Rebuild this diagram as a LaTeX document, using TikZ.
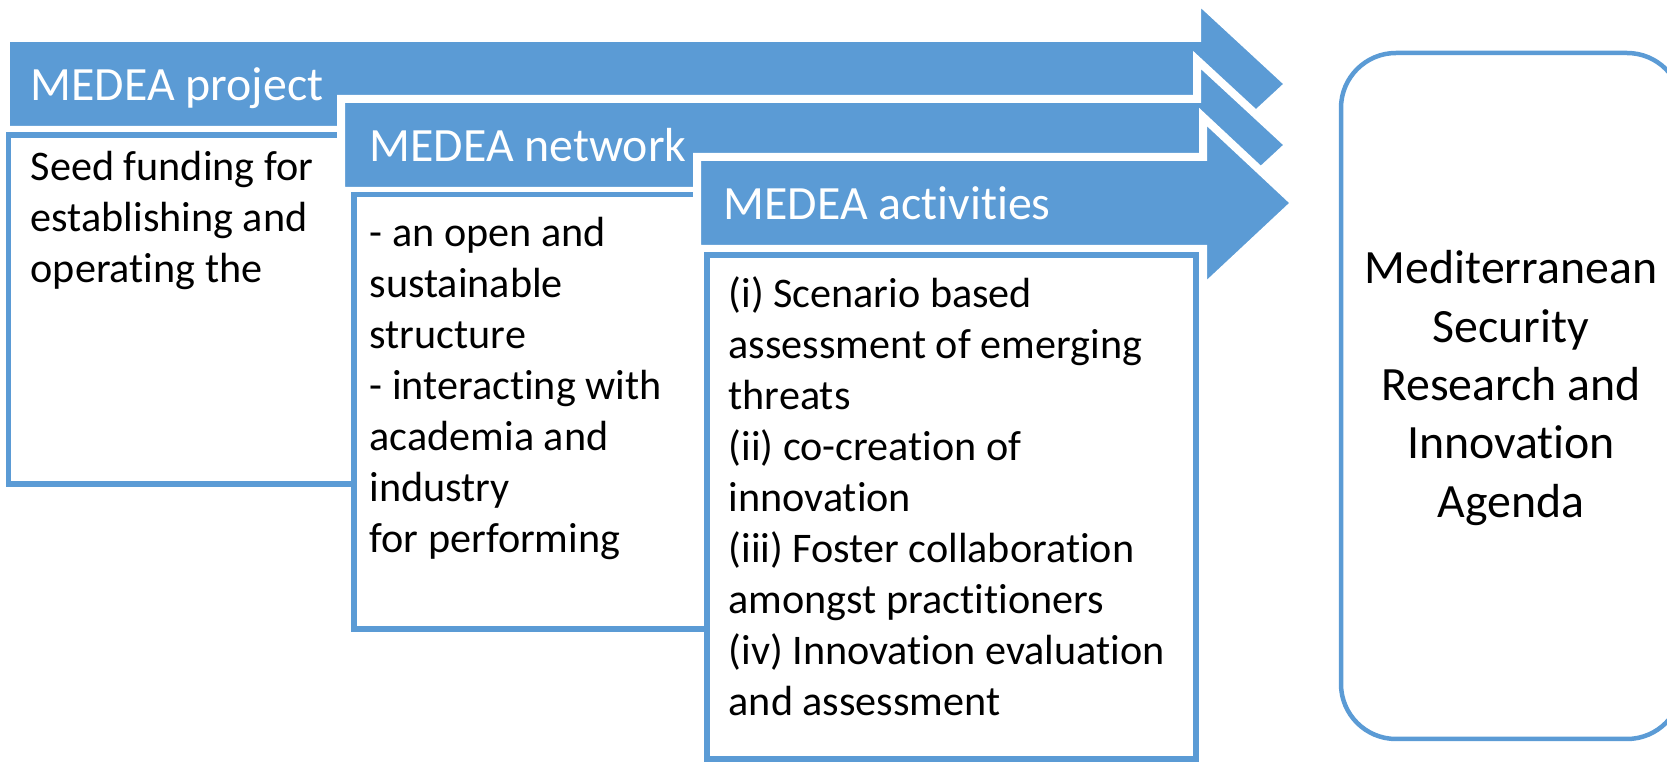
\documentclass[tikz,border=0pt]{standalone}
\usepackage{fontspec}
\setmainfont{Carlito}[Ligatures={NoCommon}]
\usepackage{xcolor}
\usepackage{tikz}
\definecolor{medeablue}{HTML}{5B9BD5}

\begin{document}
\begin{tikzpicture}[
  bar/.style={fill=medeablue, draw=white, line width=0.08cm, line join=miter},
  box/.style={draw=medeablue, fill=white, line width=0.055cm},
  headtext/.style={anchor=base west, inner sep=0pt, text=white, font=\fontsize{13.6}{16}\selectfont},
  bodytext/.style={anchor=north west, inner sep=0pt, align=left, font=\fontsize{12}{14.5}\selectfont}
]
\useasboundingbox (0,0) rectangle (16.67,7.62);
%	MEDEA project
\draw[bar] (0.06,6.32) -- (0.06,7.24) -- (11.97,7.24) -- (11.97,7.63)
		-- (12.89,6.78) -- (11.97,5.93) -- (11.97,6.32) -- cycle;
\node[headtext] (projecthead) at (0.30,6.61) {MEDEA project};
\draw[box] (0.085,2.78) rectangle (3.54,6.27);
\node[bodytext] (projectbody) at (0.30,6.11)
		{Seed funding for\\establishing and\\operating the};
%	MEDEA network
\draw[bar] (3.41,5.71) -- (3.41,6.63) -- (11.97,6.63) -- (11.97,7.02)
		-- (12.89,6.17) -- (11.97,5.32) -- (11.97,5.71) -- cycle;
\node[headtext] (networkhead) at (3.69,6.00) {MEDEA network};
\draw[box] (3.54,1.33) rectangle (7.07,5.675);
\node[bodytext] (networkbody) at (3.69,5.45)
		{- an open and\\sustainable\\structure\\- interacting with\\academia and\\industry\\for performing};
%	MEDEA activities
\draw[bar] (6.97,5.13) -- (6.97,6.05) -- (12.03,6.05) -- (12.03,6.45)
		-- (12.95,5.59) -- (12.03,4.73) -- (12.03,5.13) -- cycle;
\node[headtext] (activitieshead) at (7.23,5.42) {MEDEA activities};
\draw[box] (7.07,0.03) rectangle (11.96,5.07);
\node[bodytext] (activitiesbody) at (7.28,4.86)
		{(i) Scenario based\\assessment of emerging\\threats\\(ii) co-creation of\\innovation\\(iii) Foster collaboration\\amongst practitioners\\(iv) Innovation evaluation\\and assessment};
%	agenda
\draw[draw=medeablue, line width=0.045cm, rounded corners=0.55cm] (13.41,0.23) rectangle (16.82,7.09);
\node[align=center, inner sep=0pt, font=\fontsize{13.6}{16.6}\selectfont] (agenda) at (15.11,3.74)
		{Mediterranean\\Security\\Research and\\Innovation\\Agenda};
\end{tikzpicture}
\end{document}
